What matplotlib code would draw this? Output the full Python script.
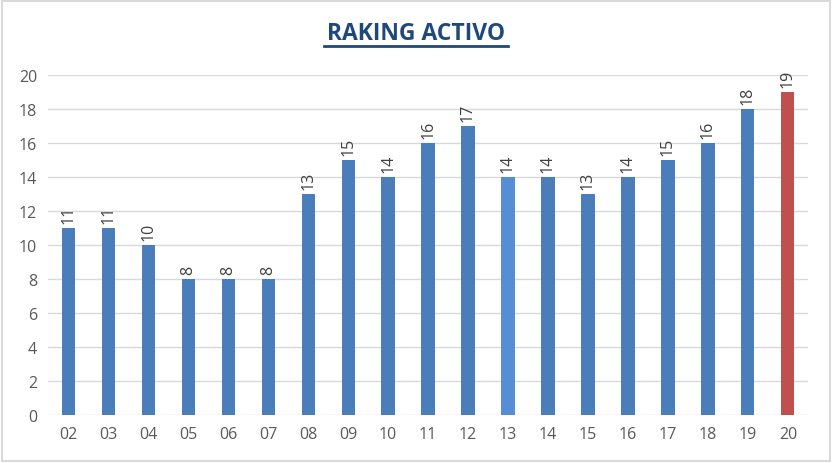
import matplotlib.pyplot as plt
from matplotlib.lines import Line2D
from matplotlib.patches import Rectangle

plt.rcParams['font.family'] = ['Open Sans', 'DejaVu Sans']

semanas = ['02', '03', '04', '05', '06', '07', '08', '09', '10', '11',
           '12', '13', '14', '15', '16', '17', '18', '19', '20']
valores = [11, 11, 10, 8, 8, 8, 13, 15, 14, 16, 17, 14, 14, 13, 14, 15, 16, 18, 19]

colores = ['#4A7EBB'] * len(valores)
colores[11] = '#558ED5'
colores[-1] = '#C0504D'

fig = plt.figure(figsize=(8.32, 4.64), dpi=100)
ax = fig.add_axes([0.058, 0.1034, 0.913, 0.733])

x = range(len(semanas))
ax.bar(x, valores, width=0.33, color=colores, zorder=3)
for i, v in zip(x, valores):
    ax.text(i, v + 0.3, str(v), rotation=90, ha='center', va='bottom',
            fontsize=11.5, color='#404040')

ax.set_xlim(-0.5, len(semanas) - 0.5)
ax.set_ylim(0, 20)
ax.set_yticks(range(0, 21, 2))
ax.set_xticks(list(x))
ax.set_xticklabels(semanas)
ax.grid(axis='y', color='#D9D9D9', linewidth=1, zorder=0)
for s in ax.spines.values():
    s.set_visible(False)
ax.tick_params(length=0, labelsize=11.5, colors='#595959', pad=8)

fig.text(0.5, 0.927, 'RAKING ACTIVO', ha='center', va='center',
         fontsize=16.5, fontweight='bold', color='#1F497D')
fig.add_artist(Line2D([0.389, 0.611], [0.898, 0.898], color='#1F497D',
                      linewidth=2, transform=fig.transFigure))
fig.add_artist(Rectangle((0.002, 0.004), 0.996, 0.992, fill=False,
                         edgecolor='#D9D9D9', linewidth=1.5,
                         transform=fig.transFigure))

fig.savefig('out.png', dpi=100)
